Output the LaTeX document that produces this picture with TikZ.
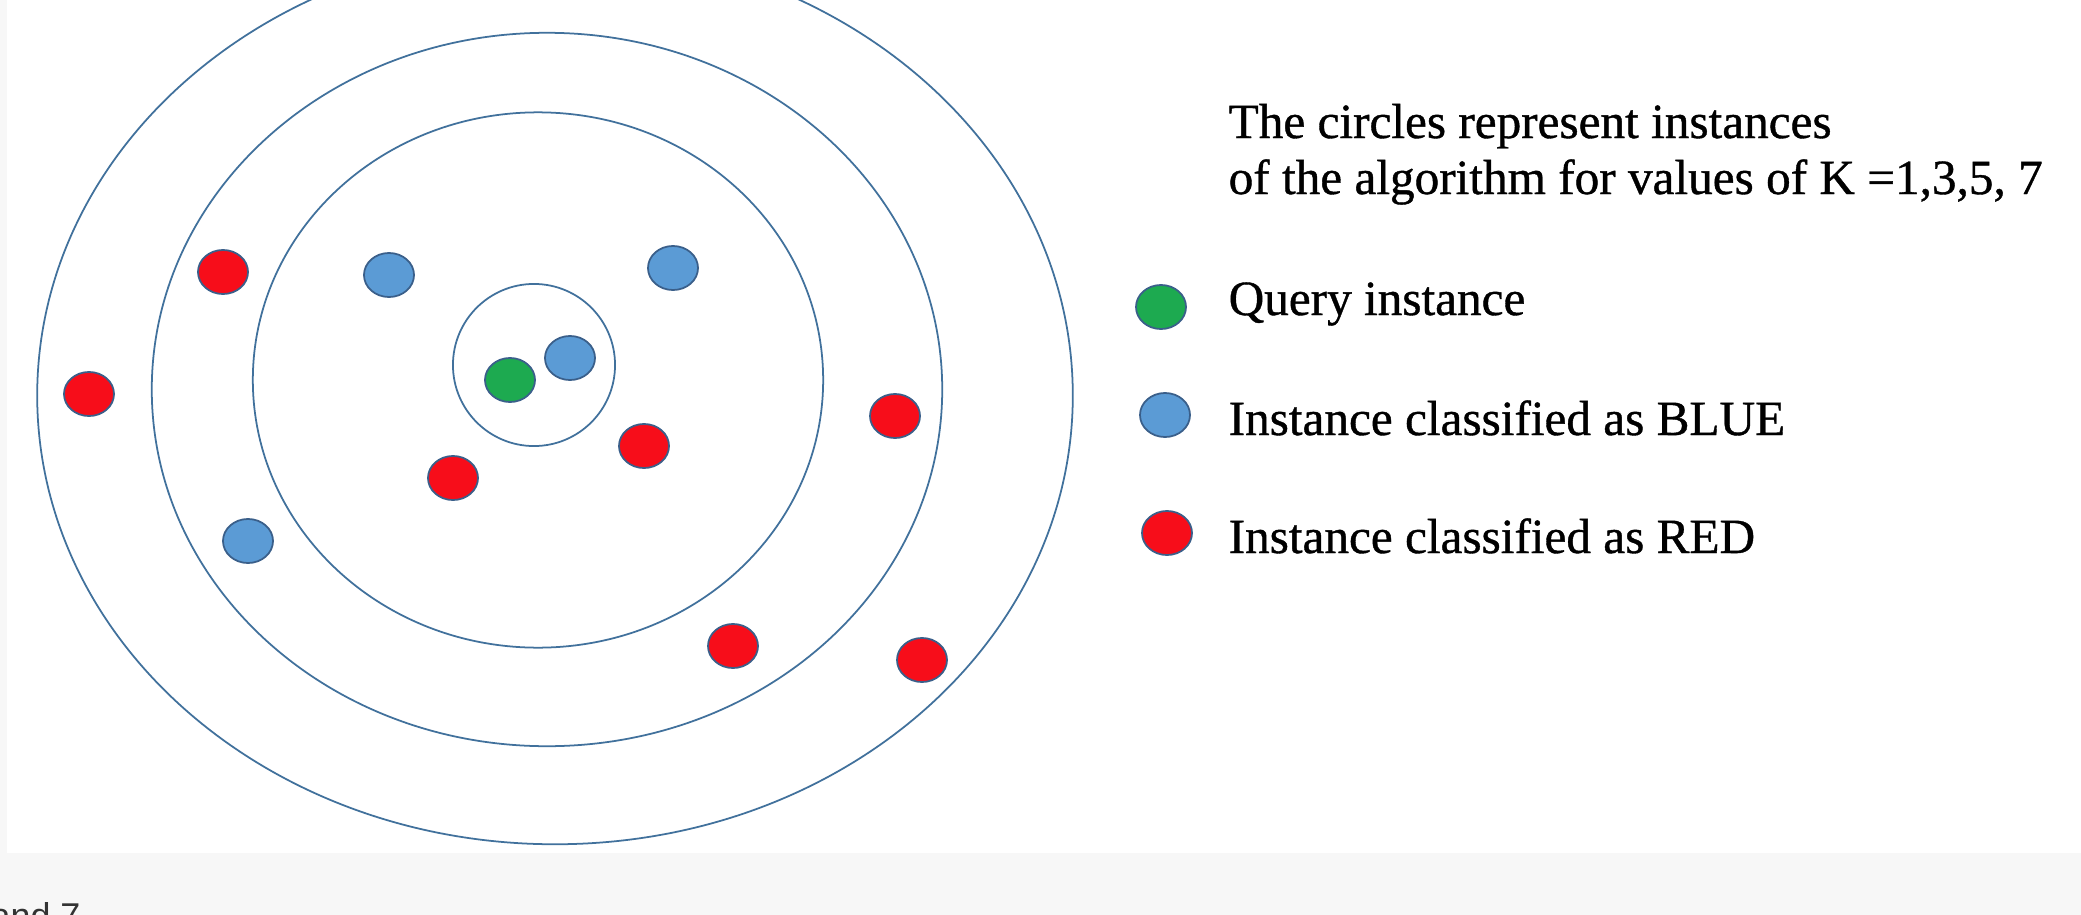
\documentclass[tikz,border=0pt]{standalone}
\usepackage{fontspec}
\setmainfont{Liberation Serif}
\newfontfamily\lblfont[FakeBold=0.8]{Liberation Serif}
\newfontfamily\uisans{Liberation Sans}
\usetikzlibrary{shapes.geometric}
\definecolor{ringc}{HTML}{41719C}
\definecolor{dotline}{HTML}{3A5F8A}
\definecolor{bluec}{HTML}{5B9BD5}
\definecolor{redc}{HTML}{F70D1A}
\definecolor{greenc}{HTML}{1DAA50}
\definecolor{pagegray}{HTML}{F7F7F7}
\definecolor{footgray}{HTML}{333333}
\begin{document}
\begin{tikzpicture}[x=0.01cm,y=-0.01cm,
  ring/.style={ellipse, draw=ringc, line width=0.5pt, inner sep=0pt, outer sep=0pt},
  dot/.style={ellipse, draw=dotline, line width=0.5pt, inner sep=0pt, outer sep=0pt,
    minimum width=0.50cm, minimum height=0.44cm},
  reddot/.style={dot, fill=redc},
  bluedot/.style={dot, fill=bluec},
  greendot/.style={dot, fill=greenc},
  lbl/.style={anchor=base west, inner sep=0pt, font=\lblfont\fontsize{14}{16}\selectfont}]
\useasboundingbox (0,0) rectangle (2081,915);
\fill[pagegray] (0,0) rectangle (2081,915);
\fill[white] (7,0) rectangle (2081,853);
\begin{scope}
\clip (0,0) rectangle (2081,915);
% rings for K = 7, 5, 3, 1
\node[ring, minimum width=10.35cm, minimum height=8.97cm] (k7) at (555,395.5) {};
\node[ring, minimum width=7.90cm, minimum height=7.13cm] (k5) at (547,389.5) {};
\node[ring, minimum width=5.70cm, minimum height=5.35cm] (k3) at (538,380) {};
\node[ring, minimum width=1.62cm, minimum height=1.62cm] (k1) at (534,365) {};
% instances
\node[reddot] (r1) at (223,272) {};
\node[bluedot] (b1) at (389,275) {};
\node[bluedot] (b2) at (673,268) {};
\node[reddot] (r2) at (89,394) {};
\node[greendot] (q) at (510,380) {};
\node[bluedot] (b3) at (570,358) {};
\node[reddot] (r3) at (895,416) {};
\node[reddot] (r4) at (644,446) {};
\node[reddot] (r5) at (453,478) {};
\node[bluedot] (b4) at (248,541) {};
\node[reddot] (r6) at (733,646) {};
\node[reddot] (r7) at (922,660) {};
% caption
\node[lbl] (cap1) at (1228,138) {The circles represent instances};
\node[lbl] (cap2) at (1228,194) {of the algorithm for values of K =1,3,5, 7};
% legend
\node[greendot] (lq) at (1161,307) {};
\node[lbl] (tq) at (1228,315) {Query instance};
\node[bluedot] (lb) at (1165,415) {};
\node[lbl] (tb) at (1228,435) {Instance classified as BLUE};
\node[reddot] (lr) at (1167,533) {};
\node[lbl] (tr) at (1228,553) {Instance classified as RED};
% cut-off page text
\node[anchor=base west, inner sep=0pt, text=footgray,
  font=\uisans\fontsize{10.2}{12}\selectfont] (foot) at (-10,928) {and 7};
\end{scope}
\end{tikzpicture}
\end{document}
